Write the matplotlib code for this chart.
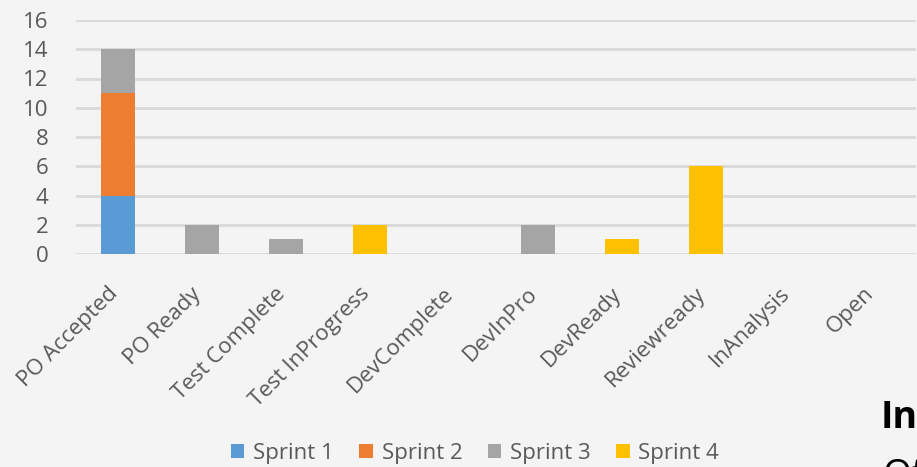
import matplotlib.pyplot as plt
import matplotlib.transforms as mtransforms
import numpy as np

categories = ['PO Accepted', 'PO Ready', 'Test Complete', 'Test InProgress', 'DevComplete',
              'DevInPro', 'DevReady', 'Reviewready', 'InAnalysis', 'Open']
sprint1 = [4, 0, 0, 0, 0, 0, 0, 0, 0, 0]
sprint2 = [7, 0, 0, 0, 0, 0, 0, 0, 0, 0]
sprint3 = [3, 2, 1, 0, 0, 2, 0, 0, 0, 0]
sprint4 = [0, 0, 0, 2, 0, 0, 1, 6, 0, 0]
series_names = ['Sprint 1', 'Sprint 2', 'Sprint 3', 'Sprint 4']
colors = ['#5B9BD5', '#ED7D31', '#A5A5A5', '#FFC000']

plt.rcParams['font.family'] = ['Open Sans', 'DejaVu Sans']
bg = '#f4f4f4'
fig = plt.figure(figsize=(9.17, 4.67), dpi=100, facecolor=bg)
ax = fig.add_axes([76 / 917, 1 - 254 / 467, 840 / 917, 234 / 467])
ax.set_facecolor(bg)

x = np.arange(len(categories))
bottom = np.zeros(len(categories))
handles = []
for vals, name, c in zip([sprint1, sprint2, sprint3, sprint4], series_names, colors):
    b = ax.bar(x, vals, 0.4, bottom=bottom, color=c, label=name, zorder=3)
    handles.append(b)
    bottom += np.array(vals)

ax.set_xlim(-0.5, len(categories) - 0.5)
ax.set_ylim(0, 16)
ax.set_yticks(range(0, 17, 2))
ax.grid(axis='y', color='#d9d9d9', linewidth=2, zorder=0)
for s in ax.spines.values():
    s.set_visible(False)
ax.tick_params(length=0, colors='#595959', labelsize=16)
ax.tick_params(axis='y', pad=20)
ax.tick_params(axis='x', pad=6)
ax.set_xticks(x)
ax.set_xticklabels(categories, rotation=45, ha='right', rotation_mode='anchor')
shift = mtransforms.ScaledTranslation(-11 / 100, -21 / 100, fig.dpi_scale_trans)
for lbl in ax.get_xticklabels():
    lbl.set_transform(lbl.get_transform() + shift)

fig.legend(handles=handles, loc='center', bbox_to_anchor=(475 / 917, 1 - 453 / 467),
           ncol=4, frameon=False, fontsize=16, labelcolor='#595959',
           handlelength=0.6, handleheight=0.6, handletextpad=0.4, columnspacing=1.15)

fig.text(881 / 917, 1 - 418 / 467, 'In', fontsize=27, fontweight='bold', color='black',
         va='center', ha='left')
fig.text(883 / 917, 1 - 458 / 467, 'Of', fontsize=27, color='black', va='top', ha='left')

fig.savefig('out.png', dpi=100, facecolor=bg)
